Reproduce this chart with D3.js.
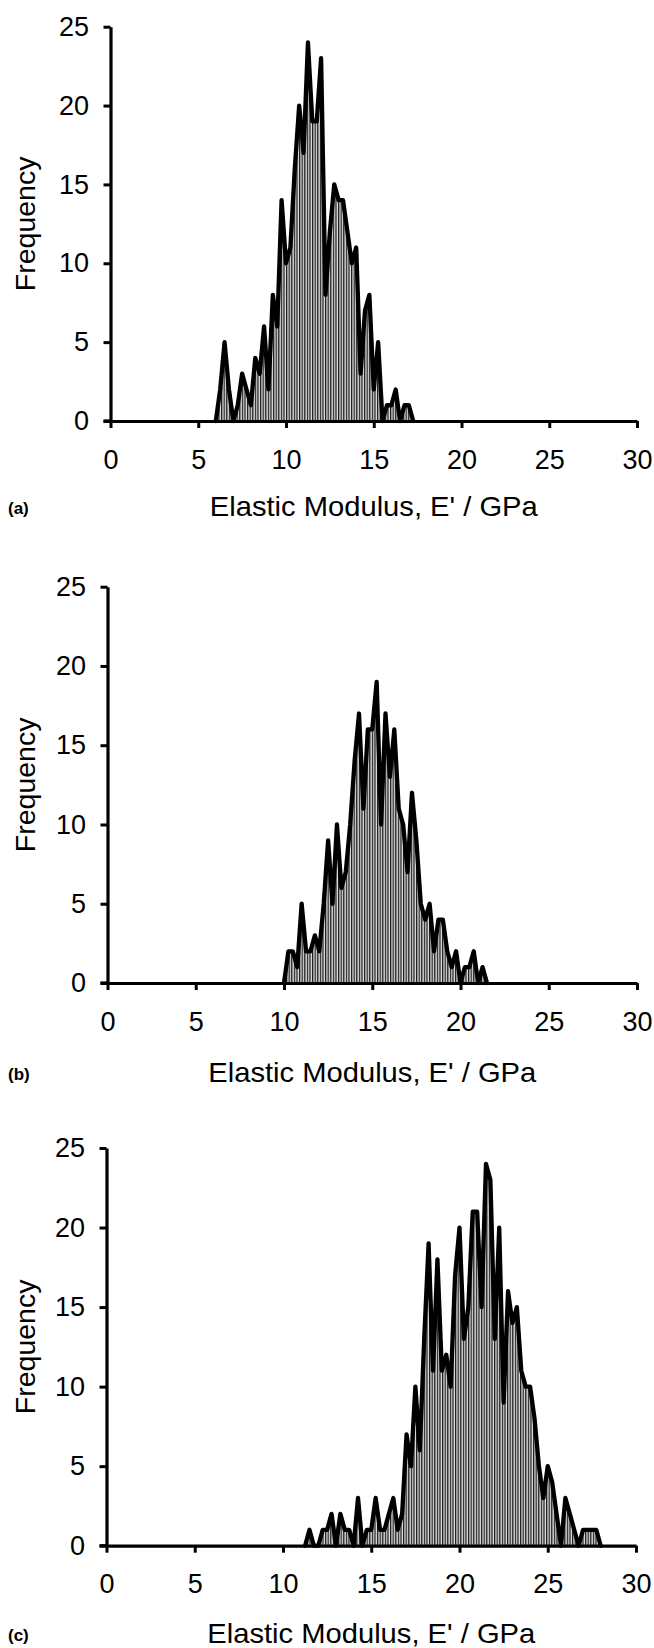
<!DOCTYPE html>
<html lang="en">
<head>
    <meta charset="UTF-8">
    <title>Elastic modulus histograms</title>
    <script src="https://d3js.org/d3.v7.min.js"></script>
    <style>
        body, html {
            margin: 0;
            padding: 0;
            background: white;
        }
        svg text {
            font-family: "Liberation Sans", Arial, sans-serif;
            fill: black;
        }
    </style>
</head>
<body>
    <script>
        'use strict'

        // bin width 0.25 GPa, counts
        const step = 0.25
        const ticksX = [0, 5, 10, 15, 20, 25, 30]
        const ticksY = [0, 5, 10, 15, 20, 25]

        const startA = 6
        const countsA = [0, 2, 5, 2, 0, 1, 3, 2, 1, 4, 3, 6, 2, 8, 6, 14,
            10, 11, 16, 20, 17, 24, 19, 19, 23, 8, 12, 15, 14, 14, 12, 10,
            11, 3, 7, 8, 2, 5, 0, 1, 1, 2, 0, 1, 1, 0]

        const startB = 10
        const countsB = [0, 2, 2, 1, 5, 2, 2, 3, 2, 5, 9, 5, 10, 6, 7, 10,
            14, 17, 11, 16, 16, 19, 10, 17, 13, 16, 11, 10, 7, 12, 9, 5,
            4, 5, 2, 4, 4, 2, 1, 2, 0, 1, 1, 2, 0, 1, 0]

        const startC = 11.25
        const countsC = [0, 1, 0, 0, 1, 1, 2, 0, 2, 1, 1, 0, 3, 0, 1, 1,
            3, 1, 1, 2, 3, 1, 2, 7, 5, 10, 6, 13, 19, 11, 18, 11,
            12, 10, 17, 20, 13, 15, 21, 21, 15, 24, 23, 13, 20, 9, 16, 14,
            15, 11, 10, 10, 8, 5, 3, 5, 4, 2, 0, 3, 2, 1, 0, 1, 1, 1, 1, 0]

        const panels = [
            {label: '(a)', start: startA, counts: countsA, left: 110.5, right: 637, top: 26.7, bottom: 421, titleGap: 85},
            {label: '(b)', start: startB, counts: countsB, left: 107.5, right: 637, top: 586.7, bottom: 983, titleGap: 89},
            {label: '(c)', start: startC, counts: countsC, left: 106.5, right: 636, top: 1148, bottom: 1545.7, titleGap: 87}
        ]

        const W = 654, H = 1648

        const svg = d3.select('body')
            .append('svg')
            .attr('width', W)
            .attr('height', H)

        // vertical hatching used under the curves
        const pat = svg.append('defs')
            .append('pattern')
            .attr('id', 'hatch')
            .attr('patternUnits', 'userSpaceOnUse')
            .attr('width', 2.6)
            .attr('height', 10)
        pat.append('rect').attr('width', 2.6).attr('height', 10).attr('fill', '#9a9a9a')
        pat.append('rect').attr('width', 1).attr('height', 10).attr('fill', '#1a1a1a')
        pat.append('rect').attr('x', 1.9).attr('width', 0.6).attr('height', 10).attr('fill', '#ffffff')

        panels.forEach(p => {
            const data = p.counts.map((c, i) => ({e: p.start + i * step, f: c}))

            const x = d3.scaleLinear().domain([0, 30]).range([p.left, p.right])
            const y = d3.scaleLinear().domain([0, 25]).range([p.bottom, p.top])

            const g = svg.append('g')

            //hatched area + outline
            const area = d3.area()
                .x(d => x(d.e))
                .y0(y(0))
                .y1(d => y(d.f))

            const line = d3.line()
                .x(d => x(d.e))
                .y(d => y(d.f))

            g.append('path')
                .datum(data)
                .attr('d', area)
                .attr('fill', 'url(#hatch)')

            //axes
            const xAxis = d3.axisBottom(x)
                .tickValues(ticksX)
                .tickSize(7)
                .tickSizeOuter(0)
                .tickPadding(21.5)

            const yAxis = d3.axisLeft(y)
                .tickValues(ticksY)
                .tickSize(7)
                .tickSizeOuter(0)
                .tickPadding(14.5)

            const gx = g.append('g')
                .attr('transform', `translate(0, ${p.bottom})`)
                .call(xAxis)
            const gy = g.append('g')
                .attr('transform', `translate(${p.left}, 0)`)
                .call(yAxis)

            ;[gx, gy].forEach(a => {
                a.select('.domain').attr('stroke', 'black').attr('stroke-width', 3.2)
                a.selectAll('.tick line').attr('stroke', 'black').attr('stroke-width', 3)
                a.selectAll('.tick text')
                    .style('font-size', '27px')
                    .style('font-family', '"Liberation Sans", Arial, sans-serif')
            })
            // extend x axis line to the left under the y ticks
            gx.append('line')
                .attr('x1', p.left - 7).attr('x2', p.left)
                .attr('stroke', 'black').attr('stroke-width', 3.2)

            g.append('path')
                .datum(data)
                .attr('d', line)
                .attr('fill', 'none')
                .attr('stroke', 'black')
                .attr('stroke-width', 4.3)
                .attr('stroke-linejoin', 'round')
                .attr('stroke-linecap', 'round')

            //labels
            g.append('text')
                .text('Frequency')
                .attr('transform', `translate(35, ${(p.top + p.bottom) / 2}) rotate(-90)`)
                .attr('text-anchor', 'middle')
                .style('font-size', '28.5px')

            g.append('text')
                .text("Elastic Modulus, E' / GPa")
                .attr('x', (p.left + p.right) / 2)
                .attr('y', p.bottom + p.titleGap + 10)
                .attr('text-anchor', 'middle')
                .attr('textLength', 328)
                .attr('lengthAdjust', 'spacingAndGlyphs')
                .style('font-size', '28px')

            g.append('text')
                .text(p.label)
                .attr('x', 8)
                .attr('y', p.bottom + p.titleGap + 8)
                .style('font-size', '17px')
                .style('font-weight', 'bold')
        })
    </script>
</body>
</html>
